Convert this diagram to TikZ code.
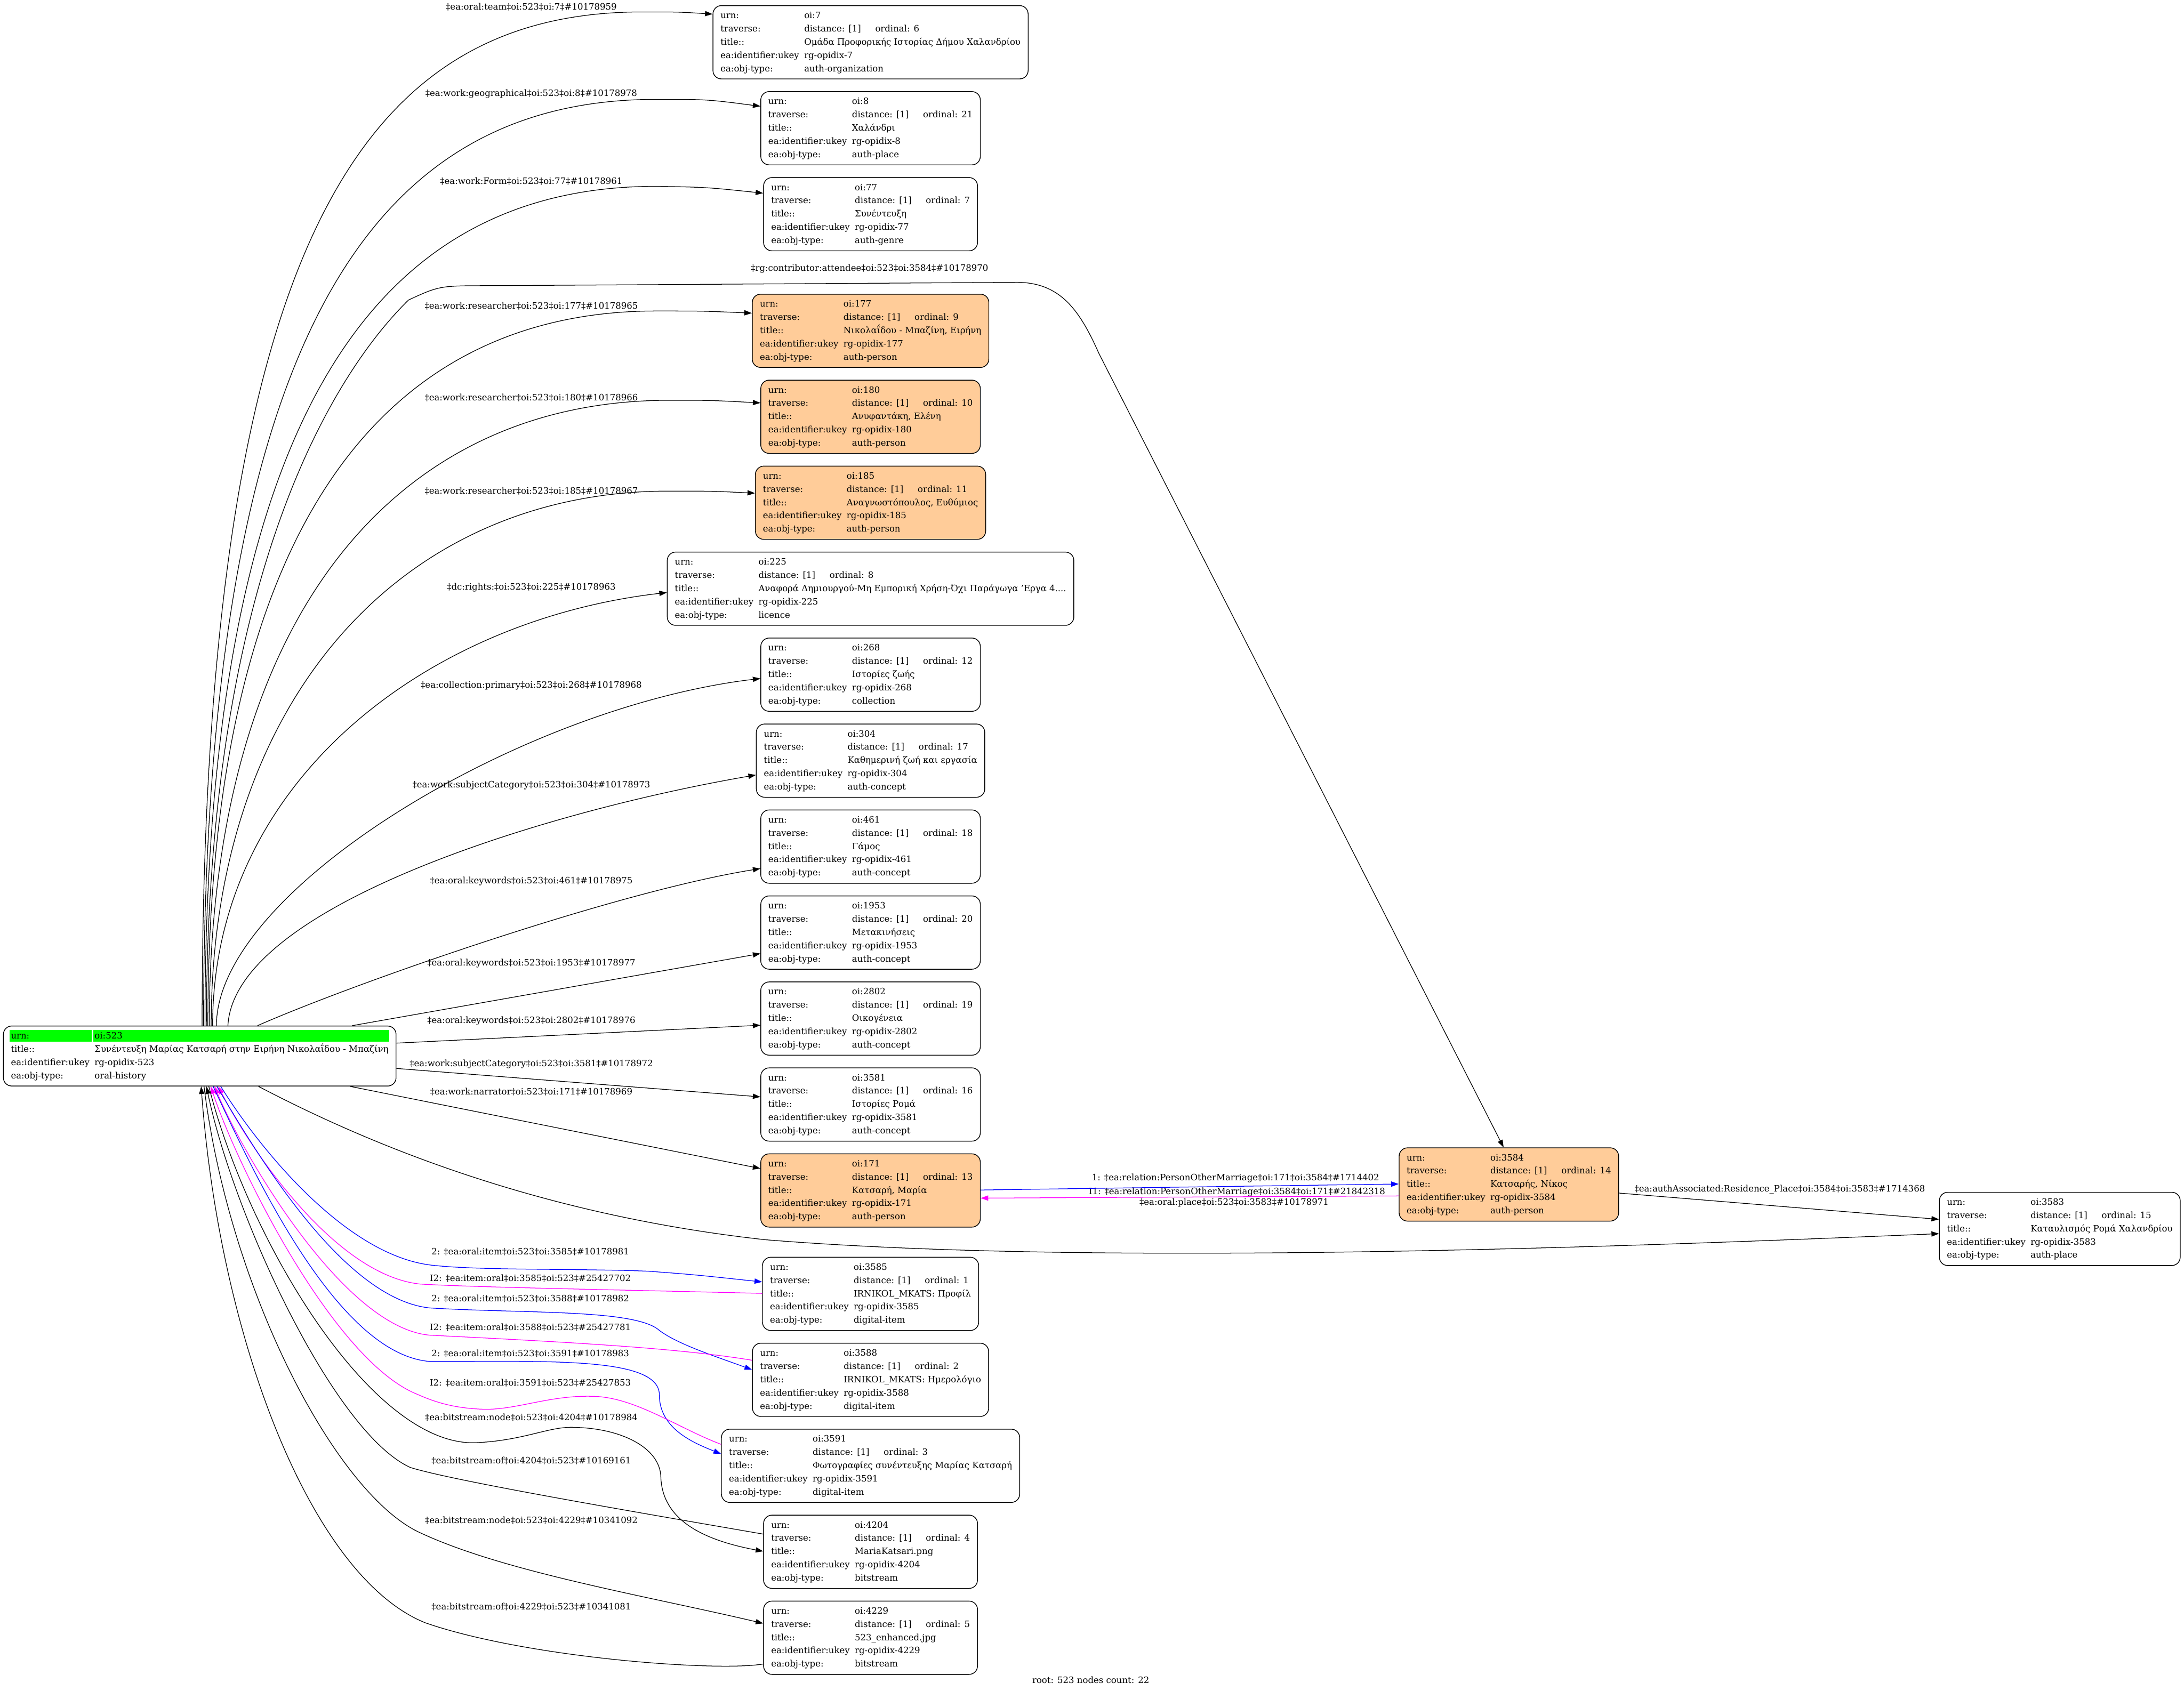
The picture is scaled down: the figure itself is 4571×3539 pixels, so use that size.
\documentclass[tikz,border=0pt]{standalone}
\usepackage{fontspec}
\setmainfont{DejaVu Serif}
\usetikzlibrary{arrows.meta, positioning, calc, backgrounds}
\definecolor{cPerson}{RGB}{255, 204, 153}
\definecolor{cUrn}{RGB}{0, 255, 0}
\definecolor{cRel}{RGB}{0, 0, 255}
\definecolor{cInv}{RGB}{255, 0, 255}

\newcommand{\oirec}[4]{%
  \begin{tabular}{@{}l@{\hspace{6pt}}l@{}}
    urn: & oi:#1\\
    traverse: & distance: [1]\hspace{17pt}ordinal: #2\hspace{7pt}\\
    title:: & #3\\
    ea:identifier:ukey & rg-opidix-#1\\
    ea:obj-type: & #4
  \end{tabular}}

\begin{document}
\begin{tikzpicture}[
    x=0.02cm, y=-0.02cm,
    font=\fontsize{10.5}{15.8}\selectfont,
    >={Triangle[length=9pt, width=6.2pt]},
    node distance=0.5cm,
    rec/.style={
        draw,
        line width=0.9pt,
        rounded corners=10pt,
        inner xsep=9pt,
        inner ysep=4.15pt,
        anchor=north
    },
    pers/.style={rec, fill=cPerson},
    edge/.style={->, line width=0.8pt}
]
\useasboundingbox (0,0) rectangle (4571,3539);

\node[rec] (root) at (418, 2147) {%
  \begin{tabular}{@{}l@{\hspace{6pt}}l@{}}
    urn: & oi:523\\
    title:: & Συνέντευξη Μαρίας Κατσαρή στην Ειρήνη Νικολαΐδου - Μπαζίνη\\
    ea:identifier:ukey & rg-opidix-523\\
    ea:obj-type: & oral-history
  \end{tabular}};
\begin{scope}[on background layer]
\fill[cUrn] ($(root.north west)+(14,9)$) rectangle ($(root.north west)+(186,34)$);
\fill[cUrn] ($(root.north west)+(189,9)$) rectangle ($(root.north east)+(-15,34)$);
\end{scope}

\node[rec] (n7) at (1822, 11) {\oirec{7}{6}{Ομάδα Προφορικής Ιστορίας Δήμου Χαλανδρίου}{auth-organization}};
\node[rec, below=of n7] (n8) {\oirec{8}{21}{Χαλάνδρι}{auth-place}};
\node[rec, below=of n8] (n77) {\oirec{77}{7}{Συνέντευξη}{auth-genre}};
\node[pers] (n177) at (1822, 615) {\oirec{177}{9}{Νικολαΐδου - Μπαζίνη, Ειρήνη}{auth-person}};
\node[pers, below=of n177] (n180) {\oirec{180}{10}{Ανυφαντάκη, Ελένη}{auth-person}};
\node[pers, below=of n180] (n185) {\oirec{185}{11}{Αναγνωστόπουλος, Ευθύμιος}{auth-person}};
\node[rec, below=of n185] (n225) {\oirec{225}{8}{Αναφορά Δημιουργού-Μη Εμπορική Χρήση-Όχι Παράγωγα 'Εργα 4....}{licence}};
\node[rec, below=of n225] (n268) {\oirec{268}{12}{Ιστορίες ζωής}{collection}};
\node[rec, below=of n268] (n304) {\oirec{304}{17}{Καθημερινή ζωή και εργασία}{auth-concept}};
\node[rec, below=of n304] (n461) {\oirec{461}{18}{Γάμος}{auth-concept}};
\node[rec, below=of n461] (n1953) {\oirec{1953}{20}{Μετακινήσεις}{auth-concept}};
\node[rec, below=of n1953] (n2802) {\oirec{2802}{19}{Οικογένεια}{auth-concept}};
\node[rec, below=of n2802] (n3581) {\oirec{3581}{16}{Ιστορίες Ρομά}{auth-concept}};
\node[pers, below=of n3581] (n171) {\oirec{171}{13}{Κατσαρή, Μαρία}{auth-person}};
\node[rec] (n3585) at (1822, 2631) {\oirec{3585}{1}{IRNIKOL\_MKATS: Προφίλ}{digital-item}};
\node[rec, below=of n3585] (n3588) {\oirec{3588}{2}{IRNIKOL\_MKATS: Ημερολόγιο}{digital-item}};
\node[rec, below=of n3588] (n3591) {\oirec{3591}{3}{Φωτογραφίες συνέντευξης Μαρίας Κατσαρή}{digital-item}};
\node[rec, below=of n3591] (n4204) {\oirec{4204}{4}{MariaKatsari.png}{bitstream}};
\node[rec, below=of n4204] (n4229) {\oirec{4229}{5}{523\_enhanced.jpg}{bitstream}};
\node[pers] (n3584) at (3158, 2402) {\oirec{3584}{14}{Κατσαρής, Νίκος}{auth-person}};
\node[rec] (n3583) at (4311, 2495) {\oirec{3583}{15}{Καταυλισμός Ρομά Χαλανδρίου}{auth-place}};

% edge labels
\node (e7) at (1112, 15) {‡ea:oral:team‡oi:523‡oi:7‡\#10178959};
\node (e8) at (1112, 197) {‡ea:work:geographical‡oi:523‡oi:8‡\#10178978};
\node (e77) at (1112, 380) {‡ea:work:Form‡oi:523‡oi:77‡\#10178961};
\node (e3584) at (1820, 563) {‡rg:contributor:attendee‡oi:523‡oi:3584‡\#10178970};
\node (e177) at (1112, 641) {‡ea:work:researcher‡oi:523‡oi:177‡\#10178965};
\node (e180) at (1112, 832) {‡ea:work:researcher‡oi:523‡oi:180‡\#10178966};
\node (e185) at (1112, 1028) {‡ea:work:researcher‡oi:523‡oi:185‡\#10178967};
\node (e225) at (1112, 1230) {‡dc:rights:‡oi:523‡oi:225‡\#10178963};
\node (e268) at (1112, 1435) {‡ea:collection:primary‡oi:523‡oi:268‡\#10178968};
\node (e304) at (1112, 1644) {‡ea:work:subjectCategory‡oi:523‡oi:304‡\#10178973};
\node (e461) at (1112, 1845) {‡ea:oral:keywords‡oi:523‡oi:461‡\#10178975};
\node (e1953) at (1112, 2017) {‡ea:oral:keywords‡oi:523‡oi:1953‡\#10178977};
\node (e2802) at (1112, 2137) {‡ea:oral:keywords‡oi:523‡oi:2802‡\#10178976};
\node (e3581) at (1112, 2228) {‡ea:work:subjectCategory‡oi:523‡oi:3581‡\#10178972};
\node (e171) at (1112, 2285) {‡ea:work:narrator‡oi:523‡oi:171‡\#10178969};
\node (e3583) at (2583, 2518) {‡ea:oral:place‡oi:523‡oi:3583‡\#10178971};
\node (erel) at (2586, 2466) {1: ‡ea:relation:PersonOtherMarriage‡oi:171‡oi:3584‡\#1714402};
\node (einv) at (2589, 2495) {I1: ‡ea:relation:PersonOtherMarriage‡oi:3584‡oi:171‡\#21842318};
\node (eres) at (3725, 2490) {‡ea:authAssociated:Residence\_Place‡oi:3584‡oi:3583‡\#1714368};
\node (e3585) at (1110, 2620) {2: ‡ea:oral:item‡oi:523‡oi:3585‡\#10178981};
\node (i3585) at (1110, 2676) {I2: ‡ea:item:oral‡oi:3585‡oi:523‡\#25427702};
\node (e3588) at (1110, 2719) {2: ‡ea:oral:item‡oi:523‡oi:3588‡\#10178982};
\node (i3588) at (1110, 2779) {I2: ‡ea:item:oral‡oi:3588‡oi:523‡\#25427781};
\node (e3591) at (1110, 2833) {2: ‡ea:oral:item‡oi:523‡oi:3591‡\#10178983};
\node (i3591) at (1110, 2895) {I2: ‡ea:item:oral‡oi:3591‡oi:523‡\#25427853};
\node (e4204) at (1112, 2967) {‡ea:bitstream:node‡oi:523‡oi:4204‡\#10178984};
\node (o4204) at (1112, 3058) {‡ea:bitstream:of‡oi:4204‡oi:523‡\#10169161};
\node (e4229) at (1112, 3183) {‡ea:bitstream:node‡oi:523‡oi:4229‡\#10341092};
\node (o4229) at (1112, 3364) {‡ea:bitstream:of‡oi:4229‡oi:523‡\#10341081};
\node (foot) at (2283, 3517) {root: 523 nodes count: 22};

% upper fan
\draw[edge] ($(root.north)+(5,0)$) .. controls (423,475) and (775,25) .. (1345,25) .. controls (1420,25) .. ($(n7.west)+(0,-59)$);
\draw[edge] ($(root.north)+(8,0)$) .. controls (426,658) and (804,208) .. (1374,208) .. controls (1480,208) .. ($(n8.west)+(0,-46)$);
\draw[edge] ($(root.north)+(11,0)$) .. controls (429,840) and (804,390) .. (1374,390) .. controls (1480,392) .. ($(n77.west)+(0,-44)$);
\draw[edge] ($(root.north)+(14,0)$) .. controls (432,1200) and (700,780) .. (855,628) .. controls (920,598) .. (1030,598) -- (2130,591) .. controls (2220,592) and (2260,650) .. (2300,740) -- ($(n3584.north)+(-11,0)$);
\draw[edge] ($(root.north)+(17,0)$) .. controls (435,1101) and (804,651) .. (1374,651) .. controls (1470,651) .. ($(n177.west)+(0,-37)$);
\draw[edge] ($(root.north)+(20,0)$) .. controls (438,1288) and (830,838) .. (1400,838) .. controls (1490,838) .. ($(n180.west)+(0,-29)$);
\draw[edge] ($(root.north)+(24,0)$) .. controls (442,1478) and (830,1028) .. (1400,1028) .. controls (1490,1028) .. ($(n185.west)+(0,-20)$);
\draw[edge] ($(root.north)+(27,0)$) .. controls (445,1636) and (894,1298) .. ($(n225.west)+(0,8)$);
\draw[edge] ($(root.north)+(35,0)$) .. controls (453,1865) and (1088,1480) .. ($(n268.west)+(0,8)$);
\draw[edge] ($(root.north)+(59,0)$) .. controls (490,1900) and (1131,1700) .. ($(n304.west)+(0,30)$);
\draw[edge] ($(root.north)+(121,0)$) .. controls (739,2059) and (1287,1867) .. ($(n461.west)+(0,46)$);
\draw[edge] ($(root.north)+(319,0)$) -- ($(n1953.west)+(0,44)$);
\draw[edge] ($(root.east)+(0,-27)$) -- ($(n2802.west)+(0,14)$);
\draw[edge] ($(root.east)+(0,26)$) -- ($(n3581.west)+(0,-16)$);
\draw[edge] ($(root.south)+(315,0)$) -- ($(n171.west)+(0,-46)$);
\draw[edge] ($(root.south)+(123,0)$) .. controls (800,2410) and (1150,2545) .. (1600,2595) .. controls (2300,2652) and (3400,2610) .. ($(n3583.west)+(0,10)$);

% relations
\draw[edge, cRel] ($(n171.east)+(0,-1)$) -- ($(n3584.west)+(0,-1)$);
\draw[edge, cInv] ($(n3584.west)+(0,24)$) -- ($(n171.east)+(0,16)$);
\draw[edge] ($(n3584.east)+(0,18)$) -- ($(n3583.west)+(0,-20)$);

% items and bitstreams
\draw[edge, cRel] ($(root.south)+(44,0)$) .. controls (540,2400) and (720,2625) .. (900,2648) .. controls (1000,2660) and (1200,2655) .. (1356,2661) .. controls (1450,2668) .. ($(n3585.west)+(0,-25)$);
\draw[edge, cInv] ($(n3585.west)+(0,-1)$) .. controls (1300,2700) and (1000,2695) .. (880,2688) .. controls (700,2670) and (520,2400) .. ($(root.south)+(39,0)$);
\draw[edge, cRel] ($(root.south)+(36,0)$) .. controls (540,2420) and (720,2720) .. (900,2738) .. controls (1100,2750) and (1330,2740) .. (1380,2785) .. controls (1420,2815) and (1500,2840) .. ($(n3588.west)+(0,-21)$);
\draw[edge, cInv] ($(n3588.west)+(0,-41)$) .. controls (1420,2822) and (1200,2810) .. (900,2795) .. controls (720,2780) and (510,2420) .. ($(root.south)+(31,0)$);
\draw[edge, cRel] ($(root.south)+(28,0)$) .. controls (520,2430) and (700,2835) .. (900,2850) .. controls (1150,2850) and (1380,2840) .. (1380,2920) .. controls (1380,2990) and (1450,3020) .. ($(n3591.west)+(0,-25)$);
\draw[edge, cInv] ($(n3591.west)+(0,-45)$) .. controls (1420,2990) and (1330,2925) .. (1242,2923) .. controls (1150,2920) and (1080,2952) .. (1012,2950) .. controls (950,2948) and (910,2935) .. (874,2919) .. controls (700,2850) and (500,2450) .. ($(root.south)+(23,0)$);
\draw[edge] ($(root.south)+(19,0)$) .. controls (520,2600) and (780,3030) .. (997,3020) .. controls (1100,3015) and (1150,2985) .. (1203,2988) .. controls (1300,2990) and (1380,3030) .. (1383,3090) .. controls (1385,3170) and (1450,3220) .. ($(n4204.west)+(0,-1)$);
\draw[edge] ($(n4204.west)+(0,-37)$) .. controls (1300,3160) and (950,3100) .. (859,3072) .. controls (700,3000) and (490,2550) .. ($(root.south)+(14,0)$);
\draw[edge] ($(root.south)+(9,0)$) .. controls (480,2700) and (700,3120) .. (874,3206) .. controls (1050,3290) and (1350,3340) .. ($(n4229.west)+(0,-30)$);
\draw[edge] ($(n4229.west)+(0,55)$) .. controls (1500,3500) and (1100,3470) .. (890,3397) .. controls (650,3300) and (460,2800) .. ($(root.south)+(3,0)$);

\end{tikzpicture}
\end{document}
